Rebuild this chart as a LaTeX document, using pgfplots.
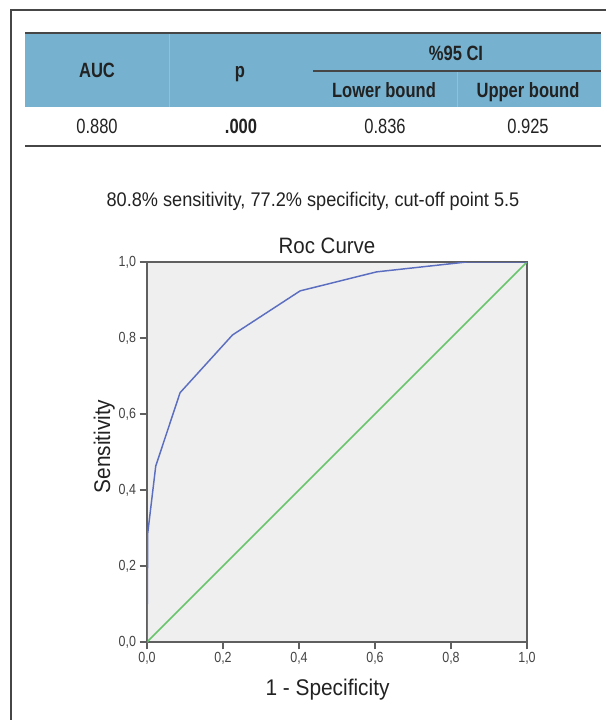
\documentclass[border=0pt]{standalone}
\usepackage{fontspec}
\setmainfont{Liberation Sans}
\newfontfamily\tabfont[FakeStretch=0.8]{Liberation Sans}
\newfontfamily\capfont[FakeStretch=0.92]{Liberation Sans}
\newfontfamily\chartfont[FakeStretch=0.92]{Liberation Sans}
\newfontfamily\tickfont[FakeStretch=0.85]{Liberation Sans}
\usepackage{pgfplots}
\pgfplotsset{compat=1.18}

\definecolor{hdrblue}{RGB}{118,178,207}
\definecolor{rulegray}{RGB}{70,70,70}
\definecolor{plotbg}{RGB}{239,239,239}
\definecolor{axgray}{RGB}{95,95,95}
\definecolor{rocblue}{RGB}{92,110,192}
\definecolor{refgreen}{RGB}{104,196,108}
\definecolor{txt}{RGB}{34,34,34}

\begin{document}
\begin{tikzpicture}[x=0.75pt, y=-0.75pt]
\useasboundingbox (0,0) rectangle (606,720);

% outer frame (only top and left edges visible)
\draw[rulegray, line width=1pt] (11,720) -- (11,10) -- (606,10);

% table
\fill[hdrblue] (25,33) rectangle (601,107);
\draw[hdrblue!80!white, line width=0.4pt] (169,33) -- (169,107) (457,71) -- (457,107);
\draw[rulegray, line width=1.5pt] (25,33) -- (601,33);
\draw[rulegray, line width=0.9pt] (313,71) -- (601,71);
\draw[rulegray, line width=1.2pt] (25,146) -- (601,146);

\begin{scope}[every node/.style={anchor=base, text=txt, inner sep=0pt,
    font=\tabfont\fontsize{15.5}{18}\selectfont}]
  \node at (97,78)  {\bfseries AUC};
  \node at (240,78) {\bfseries p};
  \node at (456,61) {\bfseries \%95 CI};
  \node at (384,98) {\bfseries Lower bound};
  \node at (528,98) {\bfseries Upper bound};
  \node at (97,133.5)  {0.880};
  \node at (241,133.5) {\bfseries .000};
  \node at (385,133.5) {0.836};
  \node at (528,133.5) {0.925};
\end{scope}

% caption
\node[anchor=base, inner sep=0pt, text=txt, font=\capfont\fontsize{14.8}{17}\selectfont]
  at (313,206.5) {80.8\% sensitivity, 77.2\% specificity, cut-off point 5.5};

% chart texts
\node[anchor=base, inner sep=0pt, text=txt, font=\chartfont\fontsize{16.7}{19}\selectfont]
  at (327,253) {Roc Curve};
\node[anchor=base, inner sep=0pt, text=txt, font=\chartfont\fontsize{17}{20}\selectfont]
  at (327.5,695) {1 - Specificity};
\node[anchor=base, rotate=90, inner sep=0pt, text=txt, font=\chartfont\fontsize{17}{20}\selectfont]
  at (110,446.5) {Sensitivity};

\begin{axis}[
  at={(110.25pt,-481.5pt)}, anchor=south west,
  scale only axis, width=285pt, height=285pt,
  xmin=0, xmax=1, ymin=0, ymax=1,
  xtick={0,0.2,0.4,0.6,0.8,1}, ytick={0,0.2,0.4,0.6,0.8,1},
  xticklabels={{0,0},{0,2},{0,4},{0,6},{0,8},{1,0}},
  yticklabels={{0,0},{0,2},{0,4},{0,6},{0,8},{1,0}},
  xtick pos=bottom, ytick pos=left,
  tick align=outside, major tick length=5.5pt,
  tick style={draw=axgray, line width=1pt},
  axis line style={draw=axgray, line width=1.4pt},
  axis background/.style={fill=plotbg},
  tick label style={font=\tickfont\fontsize{11}{13}\selectfont, text=txt!85},
  xticklabel style={inner sep=2pt},
  yticklabel style={inner sep=2.5pt},
]
\addplot[refgreen, line width=1.1pt] coordinates {(0,0) (1,1)};
\addplot[rocblue, line width=1.1pt] coordinates {
  (0,0) (0.002,0.287) (0.023,0.463) (0.087,0.656) (0.225,0.808)
  (0.403,0.924) (0.604,0.974) (0.841,1) (1,1)};
\end{axis}
\end{tikzpicture}
\end{document}
